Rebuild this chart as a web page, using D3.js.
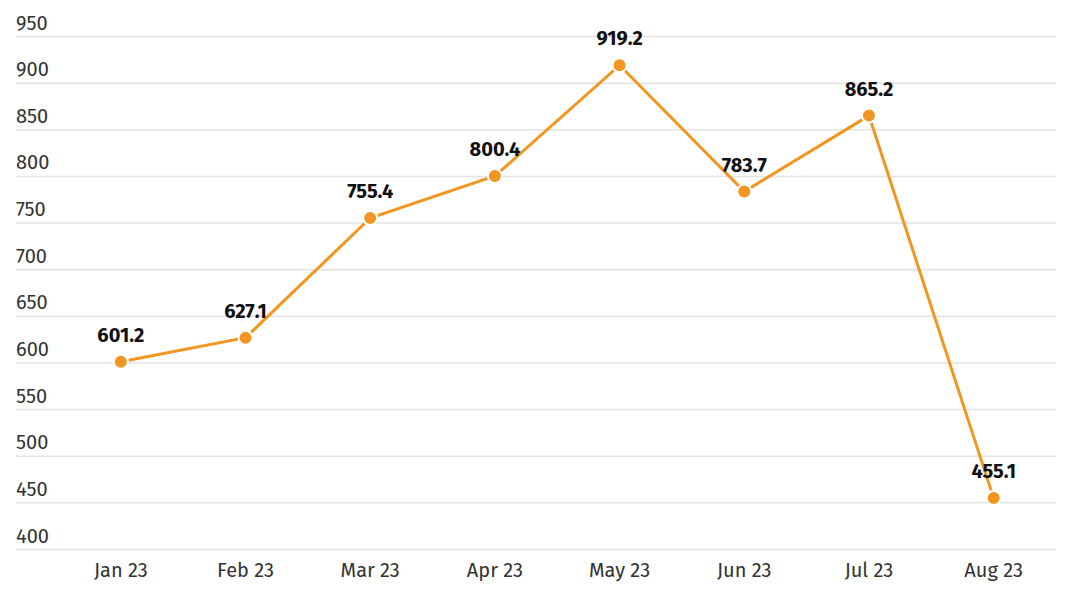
<!DOCTYPE html>
<html><head><meta charset="utf-8">
<script src="https://cdn.jsdelivr.net/npm/d3@7"></script>
<style>body{margin:0;background:#fff}svg{display:block}</style>
</head><body>
<svg id="c" width="1074" height="598"></svg>
<script>
const categories = ["Jan 23","Feb 23","Mar 23","Apr 23","May 23","Jun 23","Jul 23","Aug 23"];
const values = [601.2, 627.1, 755.4, 800.4, 919.2, 783.7, 865.2, 455.1];
const yTicks = [400,450,500,550,600,650,700,750,800,850,900,950];

const svg = d3.select("#c");
const font = "'Fira Sans','Noto Sans','Open Sans',sans-serif";
const x = d3.scaleBand().domain(categories).range([58.5, 1056]);
const y = d3.scaleLinear().domain([400, 950]).range([549.5, 36.5]);
const gridLeft = 16, gridRight = 1056;

const g = svg.append("g");
g.selectAll("line.grid").data(yTicks).join("line")
  .attr("x1", gridLeft).attr("x2", gridRight)
  .attr("y1", d => y(d)).attr("y2", d => y(d))
  .attr("stroke", "#e3e3e3").attr("stroke-width", 1.5);
g.selectAll("text.yl").data(yTicks).join("text")
  .attr("x", gridLeft).attr("y", d => y(d) - 7)
  .attr("font-family", font).attr("font-size", 20).attr("fill", "#333")
  .text(d => d);

svg.append("g").selectAll("text").data(categories).join("text")
  .attr("x", d => x(d) + x.bandwidth()/2).attr("y", 577)
  .attr("text-anchor", "middle")
  .attr("font-family", font).attr("font-size", 20).attr("fill", "#333")
  .text(d => d);

const line = d3.line().x((d,i) => x(categories[i]) + x.bandwidth()/2).y(d => y(d));
svg.append("path").datum(values).attr("d", line)
  .attr("fill", "none").attr("stroke", "#f39621").attr("stroke-width", 3);

svg.append("g").selectAll("circle").data(values).join("circle")
  .attr("cx", (d,i) => x(categories[i]) + x.bandwidth()/2).attr("cy", d => y(d))
  .attr("r", 7).attr("fill", "#f39621").attr("stroke", "#fff").attr("stroke-width", 2);

svg.append("g").selectAll("text").data(values).join("text")
  .attr("x", (d,i) => x(categories[i]) + x.bandwidth()/2).attr("y", d => y(d) - 20)
  .attr("text-anchor", "middle")
  .attr("font-family", font).attr("font-size", 20).attr("font-weight", "bold").attr("fill", "#111")
  .text(d => d.toFixed(1));
</script>
</body></html>
